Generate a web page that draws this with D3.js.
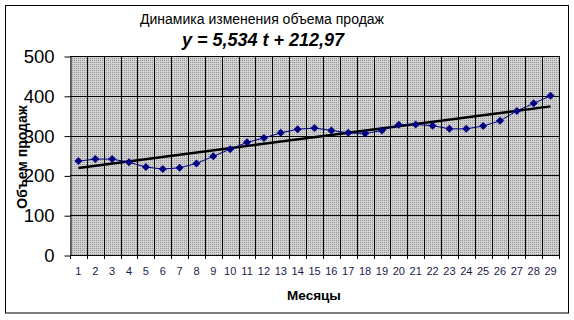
<!DOCTYPE html>
<html>
<head>
<meta charset="utf-8">
<script src="https://cdn.jsdelivr.net/npm/d3@7"></script>
<style>
  body { margin: 0; background: #fff; }
  text { font-family: "Liberation Sans", Arial, sans-serif; }
</style>
</head>
<body>
<svg id="chart" width="574" height="320"></svg>
<script>
// data
const months = d3.range(1, 30);
const sales = [236, 241, 241, 233, 221, 216, 219, 230, 248, 266,
               283, 294, 307, 316, 319, 313, 307, 305, 313, 327,
               328, 325, 317, 317, 324, 337, 362, 381, 400];
const yTicks = [0, 100, 200, 300, 400, 500];
const trendSlope = 5.534;
const trendIntercept = 212.97;

const svg = d3.select("#chart");
const plotL = 70, plotR = 559, plotT = 56, plotB = 255;

const x = d3.scaleBand().domain(months).range([plotL, plotR]).padding(0);
const y = d3.scaleLinear().domain([0, 500]).range([plotB, plotT]);
const cx = d => x(d) + x.bandwidth() / 2;

// outer frame
svg.append("rect")
  .attr("x", 5.5).attr("y", 5.5)
  .attr("width", 563).attr("height", 307.5)
  .attr("fill", "#fff")
  .attr("stroke", "#000");

// dotted grey fill of the plot area
const defs = svg.append("defs");
const pat = defs.append("pattern")
  .attr("id", "dots")
  .attr("width", 2).attr("height", 2)
  .attr("patternUnits", "userSpaceOnUse");
pat.append("rect").attr("width", 2).attr("height", 2).attr("fill", "#d2d2d2");
pat.append("rect").attr("width", 1).attr("height", 1).attr("fill", "#929292");

svg.append("rect")
  .attr("x", plotL).attr("y", plotT)
  .attr("width", plotR - plotL).attr("height", plotB - plotT)
  .attr("fill", "url(#dots)");

// gridlines
svg.append("g")
  .selectAll("line")
  .data(yTicks.filter(d => d > 0))
  .join("line")
  .attr("x1", plotL).attr("x2", plotR)
  .attr("y1", d => Math.round(y(d)) + 0.5).attr("y2", d => Math.round(y(d)) + 0.5)
  .attr("stroke", "#000");

svg.append("g")
  .selectAll("line")
  .data(months)
  .join("line")
  .attr("x1", d => Math.round(x(d) + x.bandwidth()) + 0.5)
  .attr("x2", d => Math.round(x(d) + x.bandwidth()) + 0.5)
  .attr("y1", plotT).attr("y2", plotB + 4)
  .attr("stroke", "#000");

// y axis
const yAxis = svg.append("g")
  .attr("transform", `translate(${plotL + 0.5},0.5)`)
  .call(d3.axisLeft(y).tickValues(yTicks).tickSize(6).tickPadding(10).tickSizeOuter(0));
yAxis.select(".domain").attr("stroke", "#000");
yAxis.selectAll(".tick line").attr("stroke", "#000");
yAxis.selectAll("text")
  .style("font-family", "'Liberation Sans', Arial, sans-serif")
  .style("font-size", "18.5px")
  .attr("fill", "#000");

// x axis
const xAxis = svg.append("g")
  .attr("transform", `translate(0,${plotB + 0.5})`)
  .call(d3.axisBottom(x).tickSize(0).tickPadding(12).tickSizeOuter(0));
xAxis.select(".domain").attr("stroke", "#000").attr("d", `M${plotL},0H${plotR + 1}`);
xAxis.selectAll("text")
  .style("font-family", "'Liberation Sans', Arial, sans-serif")
  .style("font-size", "11px")
  .attr("fill", "#1a1a4a");
svg.append("line")
  .attr("x1", plotL + 0.5).attr("x2", plotL + 0.5)
  .attr("y1", plotB).attr("y2", plotB + 4)
  .attr("stroke", "#000");

// trend line
const trend = [1, 29].map(t => ({ t, v: trendSlope * t + trendIntercept }));
svg.append("path")
  .datum(trend)
  .attr("fill", "none")
  .attr("stroke", "#000")
  .attr("stroke-width", 2.5)
  .attr("d", d3.line().x(d => cx(d.t)).y(d => y(d.v)));

// sales line
const pts = months.map((m, i) => ({ m, v: sales[i] }));
svg.append("path")
  .datum(pts)
  .attr("fill", "none")
  .attr("stroke", "#000080")
  .attr("stroke-width", 1)
  .attr("d", d3.line().x(d => cx(d.m)).y(d => y(d.v)));

svg.append("g")
  .selectAll("path")
  .data(pts)
  .join("path")
  .attr("transform", d => `translate(${cx(d.m)},${y(d.v)})`)
  .attr("d", "M0,-4L4,0L0,4L-4,0Z")
  .attr("fill", "#000080");

// titles
svg.append("text")
  .attr("x", 262).attr("y", 24)
  .attr("text-anchor", "middle")
  .style("font-size", "14px")
  .text("Динамика изменения объема продаж");

svg.append("text")
  .attr("x", 263).attr("y", 46)
  .attr("text-anchor", "middle")
  .style("font-size", "18px")
  .style("font-weight", "bold")
  .style("font-style", "italic")
  .text("y = 5,534 t + 212,97");

svg.append("text")
  .attr("x", 314).attr("y", 300)
  .attr("text-anchor", "middle")
  .style("font-size", "13.5px")
  .style("font-weight", "bold")
  .text("Месяцы");

svg.append("text")
  .attr("transform", "translate(27,157) rotate(-90)")
  .attr("text-anchor", "middle")
  .style("font-size", "14px")
  .style("font-weight", "bold")
  .text("Объем продаж");
</script>
</body>
</html>
